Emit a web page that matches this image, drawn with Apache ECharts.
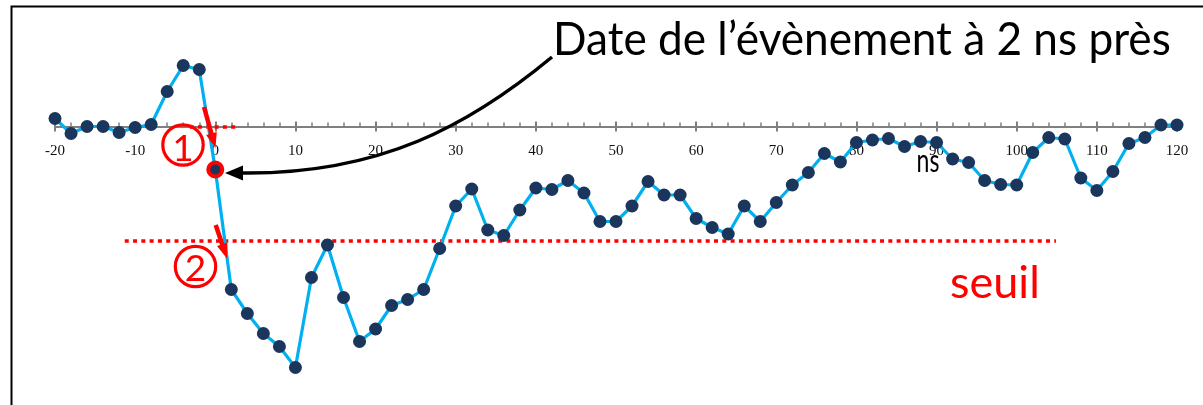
<!DOCTYPE html>
<html><head><meta charset="utf-8">
<script src="https://cdn.jsdelivr.net/npm/echarts@6/dist/echarts.min.js"></script>
<style>html,body{margin:0;padding:0;background:#fff}#c{width:1203px;height:405px}</style>
</head><body><div id="c"></div><script>
// time in ns
const times = [-20,-18,-16,-14,-12,-10,-8,-6,-4,-2,0,2,4,6,8,10,12,14,16,18,20,22,24,26,28,30,32,34,36,38,40,42,44,46,48,50,52,54,56,58,60,62,64,66,68,70,72,74,76,78,80,82,84,86,88,90,92,94,96,98,100,102,104,106,108,110,112,114,116,118,120];
// signal amplitude (arbitrary units)
const signal = [8,-7,0,0,-6,-1,2,35,61,57,-43,-163,-187,-207,-220,-241,-151,-118.5,-171,-215,-202.5,-179,-173,-163,-122,-79.5,-62.5,-103.5,-109,-83.5,-61.5,-63,-54,-66.5,-95,-95,-79.5,-55,-68.5,-68.5,-92,-101,-107.5,-79.5,-95,-76,-58.5,-46,-27,-35.5,-16,-13.5,-12,-20,-15,-16,-32.5,-36,-54,-58,-58.5,-26,-11,-12.5,-51.5,-64,-45,-17,-11,1.5,1.5];
const xTickLabels = ['-20','-10','0','10','20','30','40','50','60','70','80','90','100','110','120'];
const seuil = -114;           // threshold level
const seuilRange = [-11.3, 104.9];
const zeroMarkRange = [-3.2, 2.6];
const eventTime = 0;
const titleText = 'Date de l\u2019évènement à 2 ns près';

const chart = echarts.init(document.getElementById('c'));
const data = times.map((t, i) => {
  const p = { value: [t, signal[i]] };
  if (t === eventTime) {
    p.symbolSize = 14;
    p.itemStyle = { color: '#1B365D', borderColor: '#FF0000', borderWidth: 4 };
  }
  return p;
});

function arrowHead(sx, sy, tx, ty, len, hw) {
  const dx = tx - sx, dy = ty - sy, L = Math.hypot(dx, dy);
  const ux = dx / L, uy = dy / L;
  const bx = tx - ux * len, by = ty - uy * len;
  return [[tx, ty], [bx - uy * hw, by + ux * hw], [bx + uy * hw, by - ux * hw]];
}
function redArrow(sx, sy, tx, ty) {
  const dx = tx - sx, dy = ty - sy, L = Math.hypot(dx, dy);
  const ex = tx - dx / L * 11, ey = ty - dy / L * 11;
  return [
    { type: 'line', z: 120, silent: true, shape: { x1: sx, y1: sy, x2: ex, y2: ey }, style: { stroke: '#FF0000', lineWidth: 4.5 } },
    { type: 'polygon', z: 120, silent: true, shape: { points: arrowHead(sx, sy, tx, ty, 15, 5.5) }, style: { fill: '#FF0000' } }
  ];
}

const Y_MIN = -270, Y_MAX = 120, GRID_TOP = 6.5, GRID_H = 390;
const zeroY = GRID_TOP + GRID_H * (Y_MAX - 0) / (Y_MAX - Y_MIN);
const tickStyle = { color: '#808080', width: 2 };

const option = {
  animation: false,
  backgroundColor: '#fff',
  grid: [
    { left: 55, width: 1122, top: GRID_TOP, height: GRID_H, containLabel: false, outerBoundsMode: 'none' },
    { left: 55, width: 1122, top: 0, height: zeroY, containLabel: false, outerBoundsMode: 'none' },
    { left: 55, width: 1122, top: zeroY, height: 100, containLabel: false, outerBoundsMode: 'none' }
  ],
  xAxis: [{
    gridIndex: 0, type: 'value', min: -20, max: 120, show: false
  }, {
    gridIndex: 1, type: 'value', min: -20, max: 120, interval: 10, position: 'bottom',
    axisLine: { show: true, onZero: false, lineStyle: tickStyle },
    axisTick: { show: true, inside: true, length: 5, lineStyle: tickStyle },
    minorTick: { show: true, splitNumber: 5, length: 4, lineStyle: { color: '#808080', width: 1.5 } },
    splitLine: { show: false },
    axisLabel: { margin: 17, color: '#111', fontFamily: 'Liberation Serif', fontSize: 15,
      formatter: v => xTickLabels[xTickLabels.indexOf(String(v))] || '' }
  }, {
    gridIndex: 2, type: 'value', min: -20, max: 120, interval: 10, position: 'top',
    axisLine: { show: false, onZero: false },
    axisTick: { show: true, inside: true, length: 5, lineStyle: tickStyle },
    splitLine: { show: false },
    axisLabel: { show: false }
  }],
  yAxis: [
    { gridIndex: 0, type: 'value', min: Y_MIN, max: Y_MAX, show: false },
    { gridIndex: 1, type: 'value', show: false },
    { gridIndex: 2, type: 'value', show: false }
  ],
  series: [{
    type: 'line', xAxisIndex: 0, yAxisIndex: 0, data: data, symbol: 'circle', symbolSize: 13, showAllSymbol: true,
    lineStyle: { color: '#00B0F0', width: 3.2 },
    itemStyle: { color: '#1B365D' },
    z: 5,
    markLine: {
      silent: true, symbol: 'none', animation: false, label: { show: false },
      lineStyle: { color: '#FF0000', width: 3.5, type: [4, 4.3], cap: 'butt', opacity: 1 },
      emphasis: { disabled: true },
      data: [
        [{ coord: [seuilRange[0], seuil] }, { coord: [seuilRange[1], seuil] }],
        [{ coord: [zeroMarkRange[0], 0] }, { coord: [zeroMarkRange[1], 0] }]
      ]
    }
  }],
  graphic: [
    { type: 'rect', silent: true, z: 1, shape: { x: 11.5, y: 6.5, width: 1300, height: 500 }, style: { fill: 'none', stroke: '#000', lineWidth: 2 } },
    { type: 'bezierCurve', z: 110, silent: true,
      shape: { x1: 552, y1: 57, cpx1: 470, cpy1: 125, cpx2: 380, cpy2: 175, x2: 240, y2: 173 },
      style: { stroke: '#000', lineWidth: 3.5, fill: 'none' } },
    { type: 'polygon', z: 110, silent: true, shape: { points: [[225, 173], [243, 165.5], [243, 180.5]] }, style: { fill: '#000' } },
    ...redArrow(204, 107, 215.5, 148),
    ...redArrow(215.7, 225, 227, 258.5),
    { type: 'circle', z: 115, silent: true, shape: { cx: 183, cy: 145, r: 20.2 }, style: { fill: 'none', stroke: '#FF0000', lineWidth: 3.2 } },
    { type: 'circle', z: 115, silent: true, shape: { cx: 195.5, cy: 266.5, r: 20.2 }, style: { fill: 'none', stroke: '#FF0000', lineWidth: 3.2 } },
    { type: 'text', z: 116, silent: true, x: 183, y: 149, style: { text: '1', fill: '#FF0000', fontFamily: 'Lato', fontSize: 37, align: 'center', verticalAlign: 'middle' } },
    { type: 'text', z: 116, silent: true, x: 195.5, y: 269, style: { text: '2', fill: '#FF0000', fontFamily: 'Lato', fontSize: 37, align: 'center', verticalAlign: 'middle' } },
    { type: 'text', z: 116, silent: true, x: 553, y: 40, scaleX: 0.96, style: { text: titleText, fill: '#000', fontFamily: 'Lato', fontSize: 46, align: 'left', verticalAlign: 'middle' } },
    { type: 'text', z: 116, silent: true, x: 950, y: 283, scaleX: 1.0, style: { text: 'seuil', fill: '#FF0000', fontFamily: 'Lato', fontSize: 45, align: 'left', verticalAlign: 'middle' } },
    { type: 'text', z: 116, silent: true, x: 928, y: 161, scaleX: 0.72, scaleY: 1.05, style: { text: 'ns', fill: '#000', fontFamily: 'Lato', fontSize: 32, align: 'center', verticalAlign: 'middle' } }
  ]
};
chart.setOption(option);
</script></body></html>
